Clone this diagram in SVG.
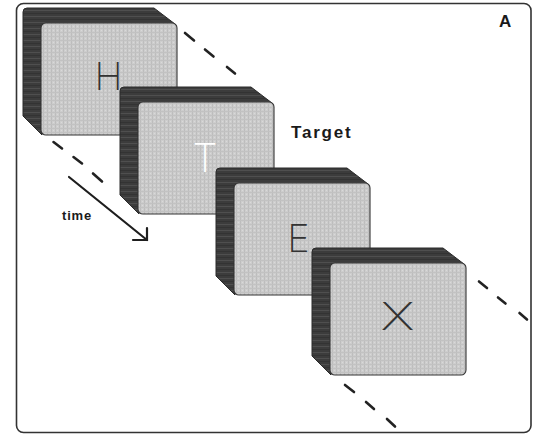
<svg xmlns="http://www.w3.org/2000/svg" width="537" height="435" viewBox="0 0 537 435">
  <defs>
    <pattern id="facePat" patternUnits="userSpaceOnUse" width="4" height="4">
      <rect width="4" height="4" fill="#cdcdcd"/>
      <rect x="0" y="0" width="1" height="4" fill="#bdbdbd"/>
      <rect x="0" y="0" width="4" height="1" fill="#c2c2c2"/>
      <rect x="2" y="2" width="1" height="1" fill="#d9d9d9"/>
    </pattern>
    <pattern id="sidePat" patternUnits="userSpaceOnUse" width="6" height="6">
      <rect width="6" height="6" fill="#3c3c3c"/>
      <rect x="0" y="2" width="6" height="1" fill="#4f4f4f"/>
      <rect x="0" y="5" width="6" height="1" fill="#333333"/>
    </pattern>
    <style>
      .frame { fill: #ffffff; stroke: #333333; stroke-width: 1.6; }
      .side { fill: url(#sidePat); stroke: #2a2a2a; stroke-width: 1; stroke-linejoin: round; }
      .face { fill: url(#facePat); stroke: #333333; stroke-width: 1.1; }
      .letter { font-family: Inter, "DejaVu Sans", "Liberation Sans", sans-serif; font-weight: 200; font-size: 38px; text-anchor: middle; fill: #333333; }
      .dash { stroke: #222222; stroke-width: 2.6; stroke-linecap: round; fill: none; }
      .arrow { stroke: #1e1e1e; stroke-width: 2.2; fill: none; stroke-linecap: round; stroke-linejoin: miter; }
      .label { font-family: "Liberation Sans", Arial, sans-serif; fill: #1a1a1a; }
    </style>
  </defs>

  <rect class="frame" x="16.5" y="3.5" width="514.5" height="429" rx="7"/>

  <g id="connectors">
    <line class="dash" x1="185" y1="33" x2="194" y2="40.5"/>
    <line class="dash" x1="205" y1="49.5" x2="213.5" y2="56.5"/>
    <line class="dash" x1="227" y1="67" x2="235" y2="73.5"/>
    <line class="dash" x1="479" y1="281.5" x2="487" y2="288"/>
    <line class="dash" x1="498" y1="297.5" x2="505.5" y2="303.5"/>
    <line class="dash" x1="519.5" y1="313" x2="527" y2="319.5"/>
    <line class="dash" x1="53.5" y1="142" x2="62" y2="148.5"/>
    <line class="dash" x1="73.5" y1="157" x2="82" y2="163.5"/>
    <line class="dash" x1="93" y1="173.5" x2="102" y2="181.5"/>
    <line class="dash" x1="345" y1="385" x2="354" y2="392"/>
    <line class="dash" x1="366" y1="402" x2="374" y2="409"/>
    <line class="dash" x1="387" y1="419" x2="395" y2="426.5"/>
    <line class="arrow" x1="69" y1="177" x2="147" y2="240"/>
    <polyline class="arrow" points="133,240 147,240 147,228"/>
  </g>

  <g id="card-H" transform="translate(23,8)">
    <path class="side" d="M4,0 H131 L152,16 V60 H19 V127 L0,108 V4 Q0,0 4,0 Z"/>
    <rect class="face" x="18" y="15" width="136" height="112" rx="5"/>
    <text class="letter" x="85.5" y="82">H</text>
  </g>

  <g id="card-T" transform="translate(120,87)">
    <path class="side" d="M4,0 H131 L152,16 V60 H19 V127 L0,108 V4 Q0,0 4,0 Z"/>
    <rect class="face" x="18" y="15" width="136" height="112" rx="5"/>
    <text class="letter" x="85" y="85" style="fill:#ffffff; font-size:40px">T</text>
  </g>

  <g id="card-E" transform="translate(216,168)">
    <path class="side" d="M4,0 H131 L152,16 V60 H19 V127 L0,108 V4 Q0,0 4,0 Z"/>
    <rect class="face" x="18" y="15" width="136" height="112" rx="5"/>
    <text class="letter" x="82.5" y="84">E</text>
  </g>

  <g id="card-X" transform="translate(312,248)">
    <path class="side" d="M4,0 H131 L152,16 V60 H19 V127 L0,108 V4 Q0,0 4,0 Z"/>
    <rect class="face" x="18" y="15" width="136" height="112" rx="5"/>
    <text class="letter" transform="translate(85.5,82) scale(1.4,1)" x="0" y="0">X</text>
  </g>

  <g id="labels">
    <text class="label" x="291" y="138" style="font-size:17px; font-weight:bold; letter-spacing:1.8px">Target</text>
    <text class="label" x="62" y="220" style="font-size:13px; font-weight:bold; letter-spacing:0.8px">time</text>
    <text class="label" x="499" y="27" style="font-size:17px; font-weight:bold">A</text>
  </g>
</svg>
